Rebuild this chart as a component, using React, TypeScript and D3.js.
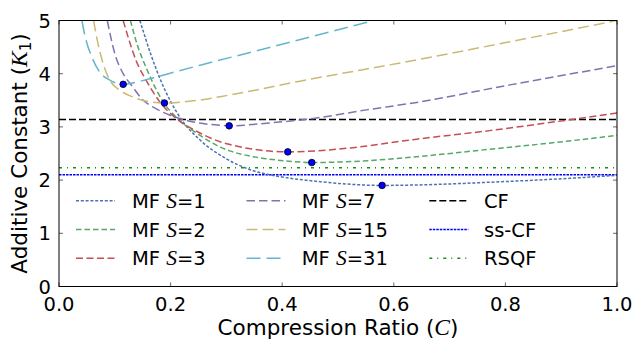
import React from "react";
import * as d3 from "d3";

// ---- data (C, K1) ----
const mfS1: [number, number][] = [
  [0.145, 5.0], [0.165, 4.35], [0.182, 3.88], [0.2, 3.48], [0.22, 3.13], [0.25, 2.78],
  [0.3, 2.4], [0.35, 2.17], [0.378, 2.1], [0.468, 1.97], [0.579, 1.9], [0.68, 1.92],
  [0.772, 1.96], [0.892, 2.02], [1.0, 2.09],
];
const mfS2: [number, number][] = [
  [0.128, 5.0], [0.14, 4.55], [0.156, 4.12], [0.166, 3.88], [0.185, 3.5], [0.214, 3.14],
  [0.25, 2.86], [0.289, 2.62], [0.306, 2.55], [0.348, 2.44], [0.408, 2.36], [0.453, 2.33],
  [0.527, 2.35], [0.641, 2.44], [0.772, 2.58], [0.892, 2.71], [1.0, 2.84],
];
const mfS3: [number, number][] = [
  [0.115, 5.0], [0.125, 4.65], [0.138, 4.25], [0.156, 3.88], [0.18, 3.48], [0.211, 3.15],
  [0.25, 2.9], [0.289, 2.72], [0.306, 2.67], [0.348, 2.58], [0.41, 2.53], [0.46, 2.55],
  [0.527, 2.61], [0.641, 2.77], [0.772, 2.93], [0.892, 3.1], [1.0, 3.26],
];
const mfS7: [number, number][] = [
  [0.0865, 5.0], [0.1, 4.38], [0.115, 4.0], [0.13, 3.78], [0.151, 3.5], [0.169, 3.37],
  [0.199, 3.22], [0.247, 3.08], [0.289, 3.03], [0.305, 3.02], [0.372, 3.07], [0.456, 3.16],
  [0.551, 3.32], [0.641, 3.46], [0.808, 3.79], [1.0, 4.15],
];
const mfS15: [number, number][] = [
  [0.062, 5.0], [0.07, 4.56], [0.079, 4.19], [0.091, 3.88], [0.109, 3.69], [0.133, 3.56],
  [0.163, 3.47], [0.189, 3.45], [0.241, 3.49], [0.306, 3.6], [0.432, 3.86], [0.641, 4.26],
  [0.808, 4.6], [1.0, 5.0],
];
const mfS31: [number, number][] = [
  [0.041, 5.0], [0.047, 4.69], [0.059, 4.31], [0.073, 4.03], [0.091, 3.88], [0.115, 3.8],
  [0.13, 3.82], [0.15, 3.87], [0.175, 3.94], [0.21, 4.04], [0.253, 4.16], [0.35, 4.42],
  [0.45, 4.69], [0.56, 4.99],
];
const optima: [number, number][] = [
  [0.579, 1.9], [0.453, 2.33], [0.41, 2.53], [0.305, 3.02], [0.189, 3.45], [0.115, 3.8],
];
const cfValue = 3.14;
const ssCfValue = 2.1;
const rsqfValue = 2.23;

const xTicks = [0, 0.2, 0.4, 0.6, 0.8, 1.0];
const yTicks = [0, 1, 2, 3, 4, 5];

const W = 633, H = 341;
const M = { left: 59, right: 16, top: 20.5, bottom: 54.5 };

const series = [
  { name: "1", data: mfS1, color: "#4C72B0", dash: "3,1.8" },
  { name: "2", data: mfS2, color: "#55A868", dash: "5.5,3" },
  { name: "3", data: mfS3, color: "#C44E52", dash: "7,3.5" },
  { name: "7", data: mfS7, color: "#8172B2", dash: "8.5,4" },
  { name: "15", data: mfS15, color: "#CCB974", dash: "11,5" },
  { name: "31", data: mfS31, color: "#64B5CD", dash: "14,6" },
];
const refLines = [
  { name: "CF", value: cfValue, color: "#000000", dash: "7,3" },
  { name: "ss-CF", value: ssCfValue, color: "#0000ff", dash: "2.5,1" },
  { name: "RSQF", value: rsqfValue, color: "#1a8c1a", dash: "3,5,1,5" },
];

export default function App() {
  const x = d3.scaleLinear().domain([0, 1]).range([M.left, W - M.right]);
  const y = d3.scaleLinear().domain([0, 5]).range([H - M.bottom, M.top]);
  const line = d3
    .line<[number, number]>()
    .x((d) => x(d[0]))
    .y((d) => y(d[1]))
    .curve(d3.curveMonotoneX);

  const font = "DejaVu Sans, sans-serif";
  const mathFont = "Liberation Serif, DejaVu Serif, serif";
  const fs = 19.5;
  const lfs = 21.5;
  const x0 = M.left, x1 = W - M.right, y0 = H - M.bottom, y1 = M.top;

  const legendCols = [
    { lx: 76, tx: 132 },
    { lx: 246.5, tx: 301.7 },
    { lx: 429.3, tx: 484 },
  ];
  const legendRows = [200.7, 229.5, 258.3];

  const legendItems = [
    ...series.map((s) => ({ kind: "mf", label: s.name, color: s.color, dash: s.dash })),
    ...refLines.map((r) => ({ kind: "ref", label: r.name, color: r.color, dash: r.dash })),
  ];

  return (
    <svg width={W} height={H} style={{ position: "absolute", left: 0, top: 0, background: "#fff" }}>
      <defs>
        <clipPath id="plotClip">
          <rect x={x0} y={y1} width={x1 - x0} height={y0 - y1} />
        </clipPath>
      </defs>
      <rect x={0} y={0} width={W} height={H} fill="#fff" />
      <g clipPath="url(#plotClip)">
        {refLines.map((r) => (
          <line key={r.name} x1={x0} x2={x1} y1={y(r.value)} y2={y(r.value)}
            stroke={r.color} strokeWidth={1.5} strokeDasharray={r.dash} />
        ))}
        {series.map((s) => (
          <path key={s.name} d={line(s.data) || ""} fill="none" stroke={s.color}
            strokeWidth={1.5} strokeDasharray={s.dash} />
        ))}
        {optima.map((p, i) => (
          <circle key={i} cx={x(p[0])} cy={y(p[1])} r={3.3} fill="#0000ff" stroke="#000" strokeWidth={0.8} />
        ))}
      </g>
      {/* frame */}
      <rect x={x0} y={y1} width={x1 - x0} height={y0 - y1} fill="none" stroke="#000" strokeWidth={1} />
      {/* ticks */}
      {xTicks.map((t) => (
        <g key={"x" + t}>
          <line x1={x(t)} x2={x(t)} y1={y0} y2={y0 - 4} stroke="#000" strokeWidth={0.6} />
          <line x1={x(t)} x2={x(t)} y1={y1} y2={y1 + 4} stroke="#000" strokeWidth={0.6} />
          <text x={x(t)} y={y0 + 24} textAnchor="middle" fontFamily={font} fontSize={fs} fill="#000">
            {t.toFixed(1)}
          </text>
        </g>
      ))}
      {yTicks.map((t) => (
        <g key={"y" + t}>
          <line x1={x0} x2={x0 + 4} y1={y(t)} y2={y(t)} stroke="#000" strokeWidth={0.6} />
          <line x1={x1} x2={x1 - 4} y1={y(t)} y2={y(t)} stroke="#000" strokeWidth={0.6} />
          <text x={x0 - 8} y={y(t) + 7} textAnchor="end" fontFamily={font} fontSize={fs} fill="#000">
            {t}
          </text>
        </g>
      ))}
      {/* axis labels */}
      <text x={(x0 + x1) / 2} y={335} textAnchor="middle" fontFamily={font} fontSize={lfs} fill="#000">
        Compression Ratio (<tspan fontFamily={mathFont} fontStyle="italic" fontSize={lfs + 2}>C</tspan>)
      </text>
      <text transform={`translate(27, ${(y0 + y1) / 2}) rotate(-90)`} textAnchor="middle"
        fontFamily={font} fontSize={lfs} fill="#000">
        Additive Constant (<tspan fontFamily={mathFont} fontStyle="italic" fontSize={lfs + 2}>K</tspan>
        <tspan fontFamily={font} fontSize={15} dy={4}>1</tspan><tspan dy={-4}>)</tspan>
      </text>
      {/* legend */}
      {legendItems.map((it, i) => {
        const col = legendCols[Math.floor(i / 3)];
        const ry = legendRows[i % 3];
        return (
          <g key={"lg" + i}>
            <line x1={col.lx} x2={col.lx + 39} y1={ry} y2={ry} stroke={it.color} strokeWidth={1.5}
              strokeDasharray={it.dash} />
            <text x={col.tx} y={ry + 7} fontFamily={font} fontSize={fs} fill="#000">
              {it.kind === "mf" ? (
                <>
                  MF <tspan fontFamily={mathFont} fontStyle="italic" fontSize={fs + 2}>S</tspan>={it.label}
                </>
              ) : (
                it.label
              )}
            </text>
          </g>
        );
      })}
    </svg>
  );
}
